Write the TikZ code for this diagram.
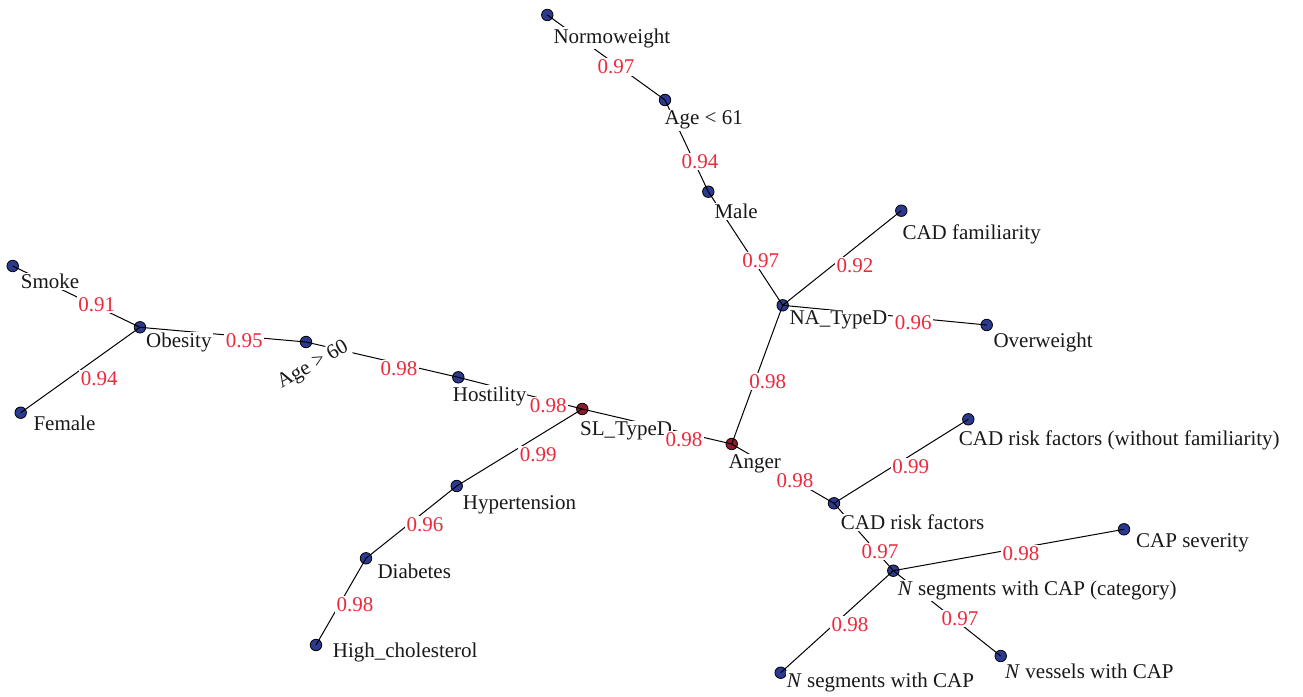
\documentclass[tikz,border=0pt]{standalone}
\usepackage{fontspec}
\setmainfont{Liberation Serif}
\definecolor{nodeblue}{HTML}{2B3A8F}
\definecolor{nodered}{HTML}{8E1B2B}
\definecolor{numred}{HTML}{EC2A3E}
\tikzset{
  vtx/.style={circle, draw=black, line width=0.8pt, fill=nodeblue, minimum size=11.5pt, inner sep=0pt},
  vtxr/.style={vtx, fill=nodered},
  lbl/.style={anchor=west, fill=white, inner sep=1pt, yshift=-2pt, font=\fontsize{21}{23}\selectfont, text=black!90},
  wgt/.style={fill=white, inner sep=1.5pt, yshift=-1pt, font=\fontsize{21}{23}\selectfont, text=numred},
  edge/.style={draw=black, line width=1pt}
}
\begin{document}
\begin{tikzpicture}[x=1pt,y=-1pt]
\useasboundingbox[fill=white] (0,0) rectangle (1303,696);
% vertices
\node[vtx] (normo) at (547.3,15) {};
\node[vtx] (age61) at (665,100) {};
\node[vtx] (male) at (708.3,191.7) {};
\node[vtx] (na) at (782.7,305.3) {};
\node[vtx] (cadfam) at (901.3,210.7) {};
\node[vtx] (over) at (986.7,325) {};
\node[vtxr] (anger) at (731.7,444) {};
\node[vtxr] (sl) at (582.3,409) {};
\node[vtx] (host) at (458.3,377.3) {};
\node[vtx] (age60) at (306,342) {};
\node[vtx] (obes) at (140,327.3) {};
\node[vtx] (smoke) at (12.7,266) {};
\node[vtx] (female) at (20.7,412.7) {};
\node[vtx] (hyper) at (456.7,486) {};
\node[vtx] (diab) at (366,558.3) {};
\node[vtx] (chol) at (316,645) {};
\node[vtx] (cadw) at (968.3,419.3) {};
\node[vtx] (cadrisk) at (834,503.3) {};
\node[vtx] (capsev) at (1124,529.3) {};
\node[vtx] (ncat) at (893.3,570.7) {};
\node[vtx] (nseg) at (780.7,672.7) {};
\node[vtx] (nves) at (1000.7,656) {};
% edges
\draw[edge] (normo.center) -- (age61.center);
\draw[edge] (age61.center) -- (male.center);
\draw[edge] (male.center) -- (na.center);
\draw[edge] (na.center) -- (cadfam.center);
\draw[edge] (na.center) -- (over.center);
\draw[edge] (na.center) -- (anger.center);
\draw[edge] (smoke.center) -- (obes.center);
\draw[edge] (female.center) -- (obes.center);
\draw[edge] (obes.center) -- (age60.center);
\draw[edge] (age60.center) -- (host.center);
\draw[edge] (host.center) -- (sl.center);
\draw[edge] (sl.center) -- (hyper.center);
\draw[edge] (sl.center) -- (anger.center);
\draw[edge] (hyper.center) -- (diab.center);
\draw[edge] (diab.center) -- (chol.center);
\draw[edge] (anger.center) -- (cadrisk.center);
\draw[edge] (cadrisk.center) -- (cadw.center);
\draw[edge] (cadrisk.center) -- (ncat.center);
\draw[edge] (ncat.center) -- (capsev.center);
\draw[edge] (ncat.center) -- (nseg.center);
\draw[edge] (ncat.center) -- (nves.center);
% vertex labels
\node[lbl] (lnormo) at (552.3,36) {Normoweight};
\node[lbl] (lage61) at (663.3,118.3) {Age < 61};
\node[lbl] (lmale) at (713.3,209.3) {Male};
\node[lbl] (lna) at (788.3,318.3) {NA\_TypeD};
\node[lbl] (lcadfam) at (901.3,232.3) {CAD familiarity};
\node[lbl] (lover) at (992.3,340) {Overweight};
\node[lbl] (langer) at (727.3,461.7) {Anger};
\node[lbl] (lsl) at (579,429.3) {SL\_TypeD};
\node[lbl] (lhost) at (451.7,394) {Hostility};
\node[lbl, anchor=center, rotate=30, yshift=0pt] (lage60) at (313.3,363.3) {Age > 60};
\node[lbl] (lobes) at (145,340.7) {Obesity};
\node[lbl] (lsmoke) at (19.7,279.3) {Smoke};
\node[lbl] (lfemale) at (32.3,421.7) {Female};
\node[lbl] (lhyper) at (461.7,502.7) {Hypertension};
\node[lbl] (ldiab) at (376.3,569.3) {Diabetes};
\node[lbl] (lchol) at (331.7,650) {High\_cholesterol};
\node[lbl] (lcadw) at (957.7,438) {CAD risk factors (without familiarity)};
\node[lbl] (lcadrisk) at (839.7,520) {CAD risk factors};
\node[lbl] (lcapsev) at (1135,540.7) {CAP severity};
\node[lbl] (lncat) at (896.7,588.3) {\textit{N} segments with CAP (category)};
\node[lbl] (lnseg) at (785.7,680) {\textit{N} segments with CAP};
\node[lbl] (lnves) at (1004,669.3) {\textit{N} vessels with CAP};
% weights
\node[wgt] (w1) at (616,66) {0.97};
\node[wgt] (w2) at (700,160.7) {0.94};
\node[wgt] (w3) at (760.7,259.3) {0.97};
\node[wgt] (w4) at (855,264.3) {0.92};
\node[wgt] (w5) at (913.3,321.7) {0.96};
\node[wgt] (w6) at (767.7,380.5) {0.98};
\node[wgt] (w7) at (96.7,303.3) {0.91};
\node[wgt] (w8) at (99.3,377.7) {0.94};
\node[wgt] (w9) at (244.3,340) {0.95};
\node[wgt] (w10) at (399,367.3) {0.98};
\node[wgt] (w11) at (548.3,404.3) {0.98};
\node[wgt] (w12) at (538.3,454) {0.99};
\node[wgt] (w13) at (684,438.3) {0.98};
\node[wgt] (w14) at (425,523.3) {0.96};
\node[wgt] (w15) at (355,603.3) {0.98};
\node[wgt] (w16) at (795,480) {0.98};
\node[wgt] (w17) at (910.7,466) {0.99};
\node[wgt] (w18) at (880,550.7) {0.97};
\node[wgt] (w19) at (1021,552.7) {0.98};
\node[wgt] (w20) at (850,624) {0.98};
\node[wgt] (w21) at (960,617.3) {0.97};
\end{tikzpicture}
\end{document}
